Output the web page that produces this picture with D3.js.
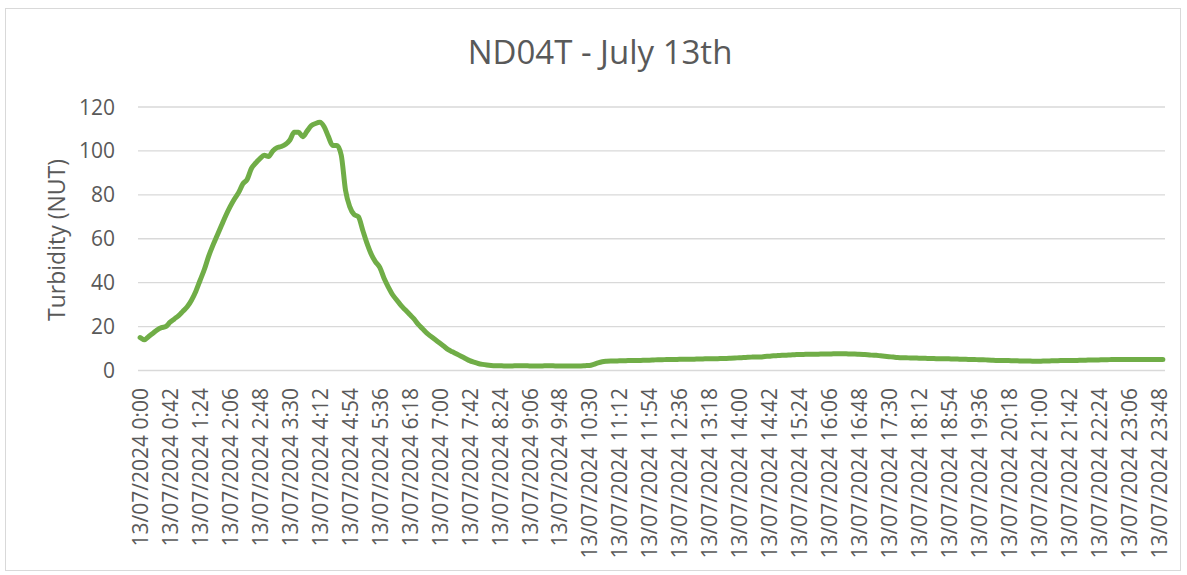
<!DOCTYPE html>
<html>
<head>
<meta charset="utf-8">
<script src="https://cdn.jsdelivr.net/npm/d3@7"></script>
<style>
  body { margin: 0; background: #fff; }
  text { font-family: "Open Sans", sans-serif; fill: #595959; }
</style>
</head>
<body>
<div class="canvas"></div>
<script>
// readings every 6 minutes, 13/07/2024 0:00 -> 23:54
const startDate = '13/07/2024';
const stepMinutes = 6;
const turbidity = [
  15, 14, 15.5, 17, 18.5, 19.5, 20, 22, 23.5, 25,
  27, 29, 32, 36, 41, 46, 52, 57, 61.5, 66,
  70.5, 74.5, 78, 81, 85, 87, 92, 94.5, 96.5, 98,
  97.5, 100, 101.5, 102, 103, 105, 108.5, 108.5, 106.5, 109,
  111.5, 112.5, 113, 111, 106.5, 102.5, 102.5, 98, 82, 74.5,
  71, 70, 64, 58, 53, 49.5, 47, 42, 38, 34.5,
  32, 29.5, 27.5, 25.5, 23.5, 21, 19, 17, 15.5, 14,
  12.5, 11, 9.5, 8.5, 7.5, 6.5, 5.5, 4.5, 3.8, 3.2,
  2.8, 2.5, 2.3,
  2.2, 2.2, 2.1, 2.1, 2.1, 2.2, 2.2, 2.2, 2.1, 2.1, 2.1,
  2.1, 2.2, 2.2, 2.1, 2.1, 2.0, 2.0, 2.0, 2.1, 2.1, 2.2,
  2.3, 2.8, 3.5, 4.0, 4.2,
  4.3, 4.3, 4.4, 4.4, 4.5, 4.5, 4.6, 4.6, 4.7, 4.7, 4.8, 4.9,
  4.9, 5.0, 5.0, 5.0, 5.1, 5.1, 5.1, 5.1, 5.2, 5.2, 5.3, 5.3, 5.4, 5.4, 5.5, 5.5,
  5.6, 5.7, 5.8, 5.9, 6.0, 6.1, 6.2, 6.2, 6.4,
  6.5, 6.7, 6.8, 6.9, 7.0, 7.1, 7.2, 7.3,
  7.3, 7.4, 7.4, 7.4, 7.5, 7.5, 7.5, 7.6, 7.6, 7.6, 7.6,
  7.5, 7.5, 7.4, 7.3, 7.2, 7.0, 6.9, 6.7, 6.5,
  6.3, 6.1, 5.9, 5.8, 5.8, 5.7, 5.7, 5.6, 5.6, 5.5, 5.5, 5.4, 5.4, 5.3, 5.3,
  5.2, 5.2, 5.1, 5.1, 5.0, 5.0, 4.9, 4.9, 4.8, 4.7, 4.6, 4.6, 4.5, 4.5,
  4.4, 4.4, 4.3, 4.3, 4.3, 4.2, 4.2, 4.3, 4.3, 4.4, 4.4, 4.5,
  4.5, 4.6, 4.6, 4.6, 4.7, 4.7, 4.8, 4.8, 4.8, 4.9, 4.9, 5.0, 5.0,
  5.0, 5.0, 5.0, 5.0, 5.0, 5.0, 5.0, 5.0, 5.0, 5.0, 5.0
];
const yTicks = [0, 20, 40, 60, 80, 100, 120];
const labelEvery = 7; // one label per 42 minutes

const fmtTime = i => {
  const m = i * stepMinutes;
  return startDate + ' ' + Math.floor(m / 60) + ':' + String(m % 60).padStart(2, '0');
};
const categories = turbidity.map((d, i) => fmtTime(i));

const svg = d3.select('.canvas')
  .append('svg')
  .attr('width', 1187)
  .attr('height', 575);

// chart frame
svg.append('rect')
  .attr('x', 5.5).attr('y', 8.5)
  .attr('width', 1175).attr('height', 562)
  .attr('fill', '#fff')
  .attr('stroke', '#d9d9d9');

const x = d3.scaleBand()
  .domain(categories)
  .range([138, 1165]);

const y = d3.scaleLinear()
  .domain([0, 120])
  .range([370.5, 107]);

// gridlines
svg.append('g')
  .selectAll('line')
  .data(yTicks)
  .join('line')
  .attr('x1', 138).attr('x2', 1165)
  .attr('y1', d => y(d)).attr('y2', d => y(d))
  .attr('stroke', '#d9d9d9')
  .attr('stroke-width', 1.3);

// y axis labels
svg.append('g')
  .selectAll('text')
  .data(yTicks)
  .join('text')
  .attr('x', 115)
  .attr('y', d => y(d))
  .attr('dy', '0.36em')
  .attr('text-anchor', 'end')
  .style('font-size', '21px')
  .text(d => d);

// x axis labels (rotated)
const shown = categories.filter((c, i) => i % labelEvery === 0);
svg.append('g')
  .selectAll('text')
  .data(shown)
  .join('text')
  .attr('transform', d => `translate(${x(d) + x.bandwidth() / 2 + 8},388) rotate(-90)`)
  .attr('text-anchor', 'end')
  .style('font-size', '21px')
  .text(d => d);

// line
const line = d3.line()
  .x((d, i) => x(categories[i]) + x.bandwidth() / 2)
  .y(d => y(d))
  .curve(d3.curveMonotoneX);

svg.append('path')
  .datum(turbidity)
  .attr('d', line)
  .attr('fill', 'none')
  .attr('stroke', '#70ad47')
  .attr('stroke-width', 5)
  .attr('stroke-linejoin', 'round')
  .attr('stroke-linecap', 'round');

// titles
svg.append('text')
  .attr('x', 600).attr('y', 64)
  .attr('text-anchor', 'middle')
  .style('font-size', '33px')
  .text('ND04T - July 13th');

svg.append('text')
  .attr('transform', 'translate(65,240) rotate(-90)')
  .attr('text-anchor', 'middle')
  .style('font-size', '23px')
  .text('Turbidity (NUT)');
</script>
</body>
</html>
